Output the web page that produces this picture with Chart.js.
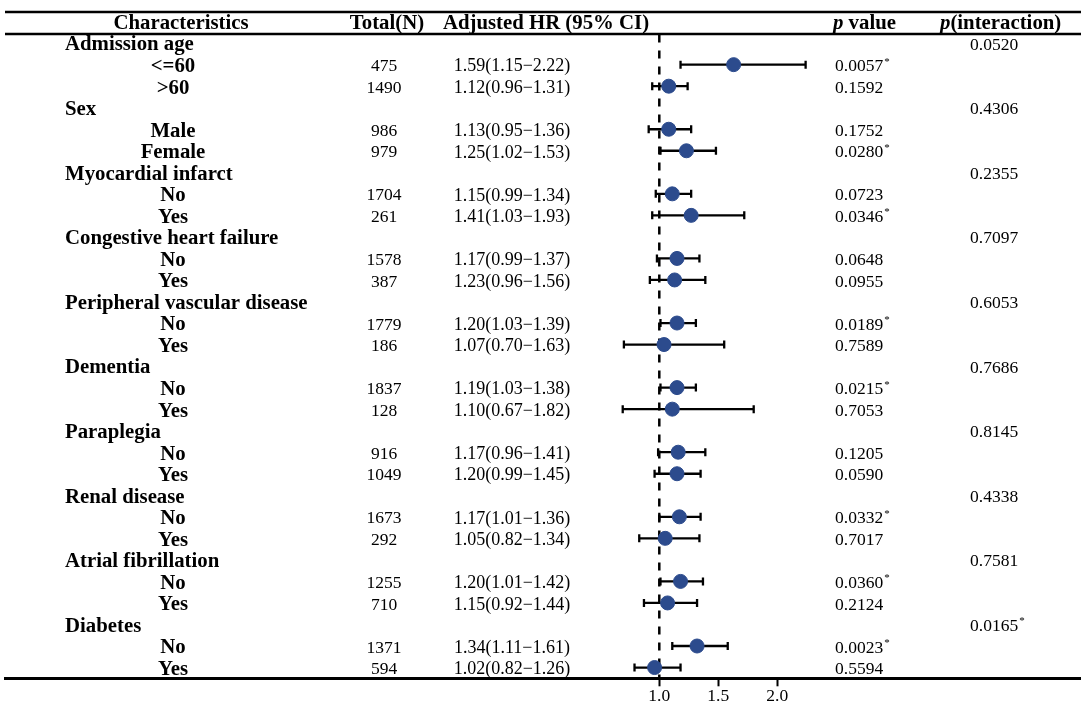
<!DOCTYPE html>
<html>
<head>
<meta charset="utf-8">
<script src="https://cdn.jsdelivr.net/npm/chart.js@4.4.0/dist/chart.umd.min.js"></script>
<style>
  body { margin: 0; background: #fff; }
  #wrap { width: 1081px; height: 703px; }
</style>
</head>
<body>
<div id="wrap"><canvas id="forest" width="1081" height="703"></canvas></div>
<script>
// rows, top to bottom
var rowLabels = ['Admission age', '<=60', '>60', 'Sex', 'Male', 'Female',
    'Myocardial infarct', 'No', 'Yes', 'Congestive heart failure', 'No', 'Yes',
    'Peripheral vascular disease', 'No', 'Yes', 'Dementia', 'No', 'Yes',
    'Paraplegia', 'No', 'Yes', 'Renal disease', 'No', 'Yes',
    'Atrial fibrillation', 'No', 'Yes', 'Diabetes', 'No', 'Yes'];

var totalN = ['', '475', '1490', '', '986', '979', '', '1704', '261', '', '1578', '387',
    '', '1779', '186', '', '1837', '128', '', '916', '1049', '', '1673', '292',
    '', '1255', '710', '', '1371', '594'];

var hrText = ['', '1.59(1.15\u22122.22)', '1.12(0.96\u22121.31)', '', '1.13(0.95\u22121.36)', '1.25(1.02\u22121.53)',
    '', '1.15(0.99\u22121.34)', '1.41(1.03\u22121.93)', '', '1.17(0.99\u22121.37)', '1.23(0.96\u22121.56)',
    '', '1.20(1.03\u22121.39)', '1.07(0.70\u22121.63)', '', '1.19(1.03\u22121.38)', '1.10(0.67\u22121.82)',
    '', '1.17(0.96\u22121.41)', '1.20(0.99\u22121.45)', '', '1.17(1.01\u22121.36)', '1.05(0.82\u22121.34)',
    '', '1.20(1.01\u22121.42)', '1.15(0.92\u22121.44)', '', '1.34(1.11\u22121.61)', '1.02(0.82\u22121.26)'];

var pValue = ['', '0.0057*', '0.1592', '', '0.1752', '0.0280*', '', '0.0723', '0.0346*',
    '', '0.0648', '0.0955', '', '0.0189*', '0.7589', '', '0.0215*', '0.7053',
    '', '0.1205', '0.0590', '', '0.0332*', '0.7017', '', '0.0360*', '0.2124',
    '', '0.0023*', '0.5594'];

var pInteraction = ['0.0520', '', '', '0.4306', '', '', '0.2355', '', '', '0.7097', '', '',
    '0.6053', '', '', '0.7686', '', '', '0.8145', '', '', '0.4338', '', '',
    '0.7581', '', '', '0.0165*', '', ''];

// point estimates and CI as drawn in the plot
var hrPoint = [null, 1.63, 1.08, null, 1.08, 1.23, null, 1.11, 1.27, null, 1.15, 1.13,
    null, 1.15, 1.04, null, 1.15, 1.11, null, 1.16, 1.15, null, 1.17, 1.05,
    null, 1.18, 1.07, null, 1.32, 0.96];
var ciLow = [null, 1.18, 0.94, null, 0.91, 1.01, null, 0.97, 0.94, null, 0.98, 0.92,
    null, 1.01, 0.70, null, 1.01, 0.69, null, 0.99, 0.96, null, 1.00, 0.83,
    null, 1.01, 0.87, null, 1.11, 0.79];
var ciHigh = [null, 2.24, 1.24, null, 1.27, 1.48, null, 1.27, 1.72, null, 1.34, 1.39,
    null, 1.31, 1.55, null, 1.31, 1.80, null, 1.39, 1.35, null, 1.35, 1.34,
    null, 1.37, 1.32, null, 1.58, 1.18];

var xTicks = [1.0, 1.5, 2.0];
var refLine = 1;

var serif = '"Liberation Serif", "Times New Roman", serif';
var boldFont = 'bold 20.8px ' + serif;
var numFont = '17.5px ' + serif;

var points = [];
hrPoint.forEach(function (v, i) {
    if (v !== null) points.push({ x: v, y: i });
});

// whiskers under the points
var errorBars = {
    id: 'errorBars',
    beforeDatasetsDraw: function (chart) {
        var ctx = chart.ctx, x = chart.scales.x, y = chart.scales.y;
        ctx.save();
        ctx.strokeStyle = '#000';
        ctx.lineWidth = 2.3;
        for (var i = 0; i < ciLow.length; i++) {
            if (ciLow[i] === null) continue;
            var py = y.getPixelForValue(i);
            var x0 = x.getPixelForValue(ciLow[i]);
            var x1 = x.getPixelForValue(ciHigh[i]);
            ctx.beginPath();
            ctx.moveTo(x0, py); ctx.lineTo(x1, py);
            ctx.moveTo(x0, py - 4); ctx.lineTo(x0, py + 4);
            ctx.moveTo(x1, py - 4); ctx.lineTo(x1, py + 4);
            ctx.stroke();
        }
        ctx.restore();
    }
};

function textWithStar(ctx, str, x, y, font) {
    var star = str.endsWith('*');
    var main = star ? str.slice(0, -1) : str;
    ctx.font = font;
    ctx.fillText(main, x, y);
    if (star) {
        var w = ctx.measureText(main).width;
        ctx.font = '11px ' + serif;
        ctx.fillText('*', x + w + 1, y - 5);
    }
}

// table columns and rules
var tableText = {
    id: 'tableText',
    afterDraw: function (chart) {
        var ctx = chart.ctx, y = chart.scales.y;
        var W = chart.width;
        ctx.save();
        ctx.fillStyle = '#000';
        ctx.strokeStyle = '#000';

        ctx.lineWidth = 2.5;
        ctx.beginPath();
        ctx.moveTo(5, 12); ctx.lineTo(W, 12);
        ctx.moveTo(5, 34); ctx.lineTo(W, 34);
        ctx.stroke();

        var hy = 24;
        ctx.textBaseline = 'middle';
        ctx.font = boldFont;
        ctx.textAlign = 'center';
        ctx.fillText('Characteristics', 181, hy);
        ctx.fillText('Total(N)', 387, hy);
        ctx.fillText('Adjusted HR (95% CI)', 546, hy);
        ctx.textAlign = 'left';
        ctx.font = 'italic ' + boldFont;
        ctx.fillText('p', 833, hy);
        var pw = ctx.measureText('p').width;
        ctx.font = boldFont;
        ctx.fillText(' value', 833 + pw, hy);
        ctx.font = 'italic ' + boldFont;
        ctx.fillText('p', 940, hy);
        ctx.font = boldFont;
        ctx.fillText('(interaction)', 940 + pw, hy);

        for (var i = 0; i < rowLabels.length; i++) {
            var py = y.getPixelForValue(i) + 2;
            var group = totalN[i] === '';
            ctx.font = boldFont;
            if (group) {
                ctx.textAlign = 'left';
                ctx.fillText(rowLabels[i], 65, py);
            } else {
                ctx.textAlign = 'center';
                ctx.fillText(rowLabels[i], 173, py);
                ctx.font = numFont;
                ctx.fillText(totalN[i], 384, py);
                ctx.font = '18px ' + serif;
                ctx.fillText(hrText[i], 512, py);
            }
            ctx.textAlign = 'left';
            if (pValue[i]) textWithStar(ctx, pValue[i], 835, py, numFont);
            if (pInteraction[i]) textWithStar(ctx, pInteraction[i], 970, py, numFont);
        }
        ctx.restore();
    }
};

new Chart(document.getElementById('forest'), {
    type: 'scatter',
    data: {
        datasets: [{
            data: points,
            backgroundColor: '#2C4B8D',
            borderColor: '#2C4B8D',
            pointRadius: 7,
            order: 0
        }, {
            type: 'line',
            data: [{ x: refLine, y: -0.4 }, { x: refLine, y: 29.5 }],
            borderColor: '#000',
            borderWidth: 2.5,
            borderDash: [8, 8],
            pointRadius: 0,
            order: 2
        }]
    },
    options: {
        responsive: false,
        animation: false,
        layout: { autoPadding: false, padding: { left: 5, right: 0, top: 34.5, bottom: 0 } },
        plugins: { legend: { display: false }, tooltip: { enabled: false } },
        scales: {
            x: {
                type: 'linear',
                min: 1 - 654.3 / 118,
                max: 1 + 421.7 / 118,
                afterBuildTicks: function (scale) {
                    scale.ticks = xTicks.map(function (v) { return { value: v }; });
                },
                afterFit: function (scale) { scale.height = 24.7; },
                grid: { drawOnChartArea: false, drawTicks: true, tickLength: 8, tickWidth: 2, color: '#000' },
                border: { display: true, width: 3, color: '#000' },
                ticks: {
                    padding: 0,
                    color: '#000',
                    font: { family: serif, size: 17.5 },
                    callback: function (v) { return Number(v).toFixed(1); }
                }
            },
            y: {
                type: 'linear',
                display: false,
                reverse: true,
                min: -0.4,
                max: 29.5
            }
        }
    },
    plugins: [errorBars, tableText]
});
</script>
</body>
</html>
